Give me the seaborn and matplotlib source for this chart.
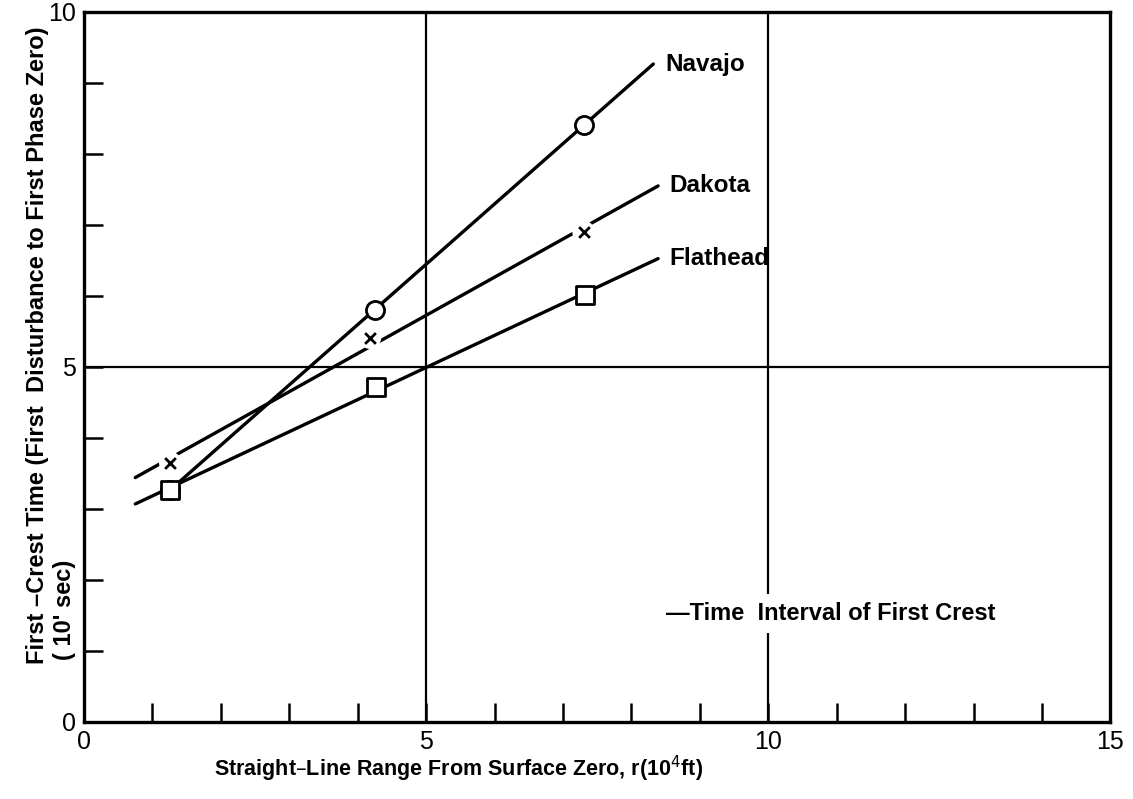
import numpy as np
import pandas as pd
import matplotlib.pyplot as plt
import seaborn as sns

# data
navajo_r = [1.26, 4.25, 7.30]
navajo_t = [3.27, 5.80, 8.40]
dakota_r = [1.26, 4.18, 7.30]
dakota_t = [3.65, 5.41, 6.90]
flathead_r = [1.26, 4.27, 7.32]
flathead_t = [3.27, 4.72, 6.01]

# extent of the drawn fit lines
navajo_span = [1.26, 8.32]
dakota_span = [0.75, 8.39]
flathead_span = [0.75, 8.39]

x_ticks = [0, 5, 10, 15]
y_ticks = [0, 5, 10]

sns.set_theme(style="white")
plt.rcParams['font.family'] = ['Liberation Sans', 'DejaVu Sans']

fig = plt.figure(figsize=(11.33, 7.99), dpi=100)
ax = fig.add_axes([0.0741, 0.0964, 0.906, 0.889])

# grid lines at major ticks
for xv in [5, 10]:
    ax.axvline(xv, color='black', lw=1.6, zorder=1)
ax.axhline(5, color='black', lw=1.6, zorder=1)

series = [
    ('Navajo', navajo_r, navajo_t, navajo_span, 'o'),
    ('Dakota', dakota_r, dakota_t, dakota_span, 'x'),
    ('Flathead', flathead_r, flathead_t, flathead_span, 's'),
]

for name, r, t, span, mk in series:
    k, b = np.polyfit(r, t, 1)
    line = pd.DataFrame({'r': span, 't': [k * s + b for s in span]})
    sns.lineplot(data=line, x='r', y='t', color='black', lw=2.4, ax=ax, zorder=2)
    pts = pd.DataFrame({'r': r, 't': t})
    if mk == 'x':
        sns.scatterplot(data=pts, x='r', y='t', marker='o', s=260, color='white',
                        edgecolor='none', ax=ax, zorder=3)
        sns.scatterplot(data=pts, x='r', y='t', marker='x', s=60, color='black',
                        linewidth=2, ax=ax, zorder=4)
    else:
        sns.scatterplot(data=pts, x='r', y='t', marker=mk, s=170, facecolor='white',
                        edgecolor='black', linewidth=2, ax=ax, zorder=4)
    ax.text(span[1] + 0.17, k * span[1] + b, name, fontsize=17.5, va='center',
            ha='left', fontweight='bold', color='black', zorder=5)

ax.text(8.5, 1.53, '\u2014Time  Interval of First Crest', fontsize=17,
        va='center', ha='left', fontweight='bold', color='black', zorder=5,
        bbox=dict(facecolor='white', edgecolor='none', pad=6))

ax.set_xlim(0, 15)
ax.set_ylim(0, 10)
ax.set_xticks(x_ticks)
ax.set_yticks(y_ticks)
ax.set_xticks(np.arange(0, 16, 1), minor=True)
ax.set_yticks(np.arange(0, 11, 1), minor=True)
ax.tick_params(which='both', direction='in', length=14, width=1.8, color='black',
               bottom=True, left=True)
ax.tick_params(which='major', labelsize=18, labelcolor='black', pad=6)

for sp in ax.spines.values():
    sp.set_color('black')
    sp.set_linewidth(2.4)

ax.set_xlabel('Straight\u2013Line Range From Surface Zero, r(10$^4$ft)', fontsize=15.5,
              fontweight='bold', color='black')
ax.xaxis.set_label_coords(0.365, -0.045)
ax.set_ylabel('First \u2013Crest Time (First  Disturbance to First Phase Zero)',
              fontsize=17, fontweight='bold', color='black')
ax.yaxis.set_label_coords(-0.034, 0.53)
ax.text(-0.008, 0.087, '( 10\' sec)', transform=ax.transAxes, rotation=90,
        ha='right', va='bottom', fontsize=17, fontweight='bold', color='black')

plt.savefig('out.png', dpi=100)
